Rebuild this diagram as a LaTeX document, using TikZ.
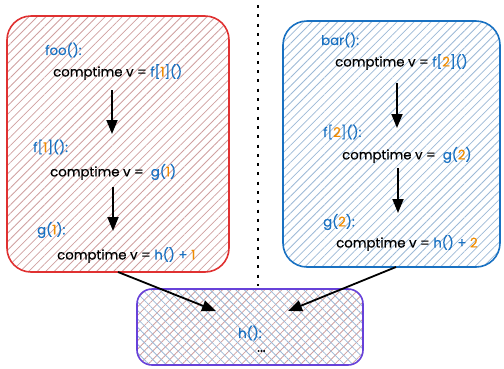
\documentclass[tikz,border=0pt]{standalone}
\usepackage{fontspec}
\setmainfont{Poppins}
\newfontfamily\codefont{Poppins}[FakeBold=0.4]
\usetikzlibrary{arrows.meta,patterns.meta}

\definecolor{fnblue}{HTML}{1971C2}
\definecolor{numorange}{HTML}{F08C00}
\definecolor{boxred}{HTML}{E03131}
\definecolor{boxblue}{HTML}{1971C2}
\definecolor{boxpurple}{HTML}{6741D9}
\definecolor{hatchred}{HTML}{CFA0A0}
\definecolor{hatchblue}{HTML}{9DB9D6}

% coloured pieces of the code snippets
\newcommand{\fc}[1]{\textcolor{fnblue}{#1}}
\newcommand{\nm}[1]{\textcolor{numorange}{#1}}

\tikzset{
  region/.style={draw, line width=1.6pt, inner sep=0pt, rectangle},
  redregion/.style={region, draw=boxred, rounded corners=24pt,
    pattern={Lines[angle=45,distance=6pt,line width=0.8pt]}, pattern color=hatchred},
  blueregion/.style={region, draw=boxblue, rounded corners=24pt,
    pattern={Lines[angle=45,distance=6pt,line width=0.8pt]}, pattern color=hatchblue},
  purpleregion/.style={region, draw=boxpurple, rounded corners=15pt,
    preaction={pattern={Lines[angle=45,distance=6pt,line width=0.8pt]}, pattern color=hatchred},
    pattern={Lines[angle=-45,distance=6pt,line width=0.8pt]}, pattern color=hatchblue},
  code/.style={anchor=west, inner sep=0pt, font=\codefont\fontsize{13.3}{15}\selectfont},
  flow/.style={line width=1.8pt, -{Triangle[length=14pt,width=11pt]}},
  separator/.style={line width=2pt, dash pattern=on 3pt off 6.3pt},
}

\begin{document}
\begin{tikzpicture}[x=1pt,y=-1pt]
\useasboundingbox (0,0) rectangle (504,368);

% the three regions
\node[redregion, minimum width=222pt, minimum height=256pt] (redbox) at (118,144) {};
\node[blueregion, minimum width=217pt, minimum height=246pt] (bluebox) at (391.5,144) {};
\node[purpleregion, minimum width=226pt, minimum height=76pt] (hbox) at (250,327) {};

% separator between the two call chains
\coordinate (septop) at (257.5,5);
\coordinate (sepbot) at (257.5,286);
\draw[separator] (septop) -- (sepbot);

% left call chain
\node[code] (foo) at (45,50) {\fc{foo():}};
\node[code] (fooline) at (53,72) {comptime v = \fc{f[}\nm{1}\fc{]()}};
\node[code] (fone) at (33,147) {\fc{f[}\nm{1}\fc{]():}};
\node[code] (foneline) at (50,172) {comptime v = \ \fc{g(}\nm{1}\fc{)}};
\node[code] (gone) at (37,230) {\fc{g(}\nm{1}\fc{):}};
\node[code] (goneline) at (57,255) {comptime v = \fc{h() +} \nm{1}};

% right call chain
\node[code] (bar) at (321,40) {\fc{bar():}};
\node[code] (barline) at (335,62) {comptime v = \fc{f[}\nm{2}\fc{]()}};
\node[code] (ftwo) at (323,132) {\fc{f[}\nm{2}\fc{]():}};
\node[code] (ftwoline) at (342,155) {comptime v = \ \fc{g(}\nm{2}\fc{)}};
\node[code] (gtwo) at (323,222) {\fc{g(}\nm{2}\fc{):}};
\node[code] (gtwoline) at (336,243) {comptime v = \fc{h() +} \nm{2}};

% shared callee
\node[code] (h) at (238,333) {\fc{h():}};
\node[code] (hdots) at (257,351) {...};

% arrow ends inside the regions
\coordinate (la1) at (112,90);  \coordinate (lb1) at (112,134);
\coordinate (la2) at (113,187); \coordinate (lb2) at (113,231);
\coordinate (ra1) at (397,83);  \coordinate (rb1) at (397,128);
\coordinate (ra2) at (398,168); \coordinate (rb2) at (398,213);
\coordinate (lout) at (118,272); \coordinate (lin) at (216,311);
\coordinate (rout) at (396,267); \coordinate (rin) at (288,311);

\draw[flow] (la1) -- (lb1);
\draw[flow] (la2) -- (lb2);
\draw[flow] (ra1) -- (rb1);
\draw[flow] (ra2) -- (rb2);
\draw[flow] (lout) -- (lin);
\draw[flow] (rout) -- (rin);
\end{tikzpicture}
\end{document}
